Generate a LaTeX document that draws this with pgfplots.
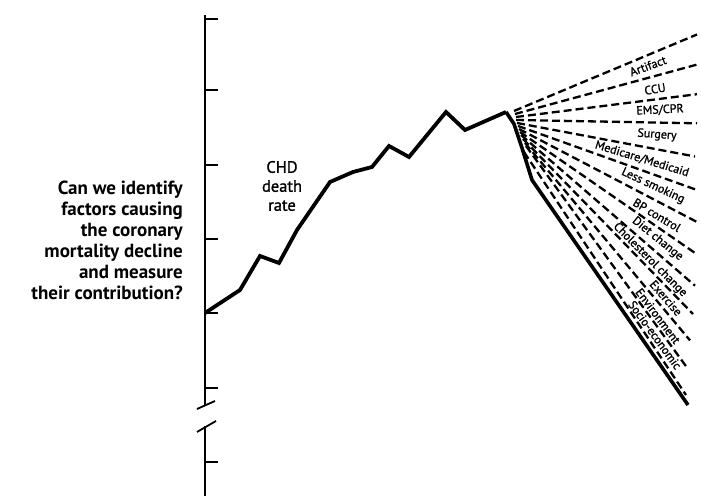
\documentclass[border=0pt]{standalone}
\usepackage{fontspec}
\setmainfont{PT Sans}
\newfontfamily\semib[FakeBold=1.2]{PT Sans}
\usepackage{pgfplots}
\usepackage{pgfplotstable}
\pgfplotsset{compat=1.18}
\pgfplotstableread{
x y
0 183
35 206
55 240
74 233
92 266
125 314
148 324
167 329
184 350
204 339
241 384
260 366
301 384
}\deathrate
\pgfplotstableread{
x y
301 384
309 372
317 348
327 316
483 91
}\decline
\begin{document}
\begin{tikzpicture}[
  fan/.style={black, line width=2.3bp, dash pattern=on 8bp off 4bp},
  lab/.style={font=\semib\fontsize{12bp}{14bp}\selectfont, inner sep=0pt},
]
\path[use as bounding box] (0,0) rectangle (701bp,496bp);
\begin{axis}[
  at={(205bp,0bp)}, anchor=south west,
  scale only axis, width=496bp, height=481bp,
  xmin=0, xmax=496, ymin=0, ymax=481,
  clip=false,
  axis y line*=left, axis x line*=bottom,
  y axis line style={black, line width=2bp},
  x axis line style={black!12, line width=0.6bp},
  xtick=\empty,
  ytick={34,108,183,257,331,406,477},
  yticklabels={},
  tick align=inside,
  major tick length=13bp,
  ytick style={black, line width=2bp},
]
% axis break
\fill[white] (axis cs:-4,70) rectangle (axis cs:4,90);
\draw[line width=1.8bp] (axis cs:-8,87) -- (axis cs:10,95);
\draw[line width=1.8bp] (axis cs:-8,64) -- (axis cs:11,75);

\addplot[black, line width=3.8bp, line join=miter, miter limit=3] table {\deathrate};
\addplot[black, line width=3.6bp, line join=round] table {\decline};

\addplot[fan] coordinates {(309,385) (492,461.5)};
\addplot[fan] coordinates {(310,382) (492,431.4)};
\addplot[fan] coordinates {(311,379) (492,401.8)};
\addplot[fan] coordinates {(311,376) (492,372.7)};
\addplot[fan] coordinates {(312,373) (490,339.5)};
\addplot[fan] coordinates {(313,370) (492,306)};
\addplot[fan] coordinates {(314,367) (492,274)};
\addplot[fan] coordinates {(315,364) (490,243)};
\addplot[fan] coordinates {(316,361) (490,210.3)};
\addplot[fan] coordinates {(318,357) (488,182)};
\addplot[fan] coordinates {(320,353) (485,155.6)};
\addplot[fan] coordinates {(321,350) (483,127)};
\addplot[fan] coordinates {(319,344) (481,101)};

\node[lab, rotate=20] at (axis cs:443,430) {Artifact};
\node[lab, rotate=10] at (axis cs:450,407) {CCU};
\node[lab, rotate=3] at (axis cs:455,386) {EMS/CPR};
\node[lab, rotate=-4] at (axis cs:452,361) {Surgery};
\node[lab, rotate=-17] at (axis cs:437,337) {Medicare/Medicaid};
\node[lab, rotate=-25] at (axis cs:448,310) {Less smoking};
\node[lab, rotate=-31] at (axis cs:452,281) {BP control};
\node[lab, rotate=-39] at (axis cs:452.5,257) {Diet change};
\node[lab, rotate=-45] at (axis cs:445,236) {Cholesterol change};
\node[lab, rotate=-49] at (axis cs:461,198) {Exercise};
\node[lab, rotate=-53] at (axis cs:453,180) {Environment};
\node[lab, rotate=-54] at (axis cs:450,161) {Socio-economic};

\node[align=center, inner sep=0pt, font=\semib\fontsize{16.5bp}{19bp}\selectfont] at (axis cs:77,310) {CHD\\death\\rate};
\node[anchor=east, align=right, inner sep=0pt, font=\fontsize{19bp}{21bp}\selectfont\bfseries] at (axis cs:-22,255.5)
  {Can we identify\\factors causing\\the coronary\\mortality decline\\and measure\\their contribution?};
\end{axis}
\end{tikzpicture}
\end{document}
